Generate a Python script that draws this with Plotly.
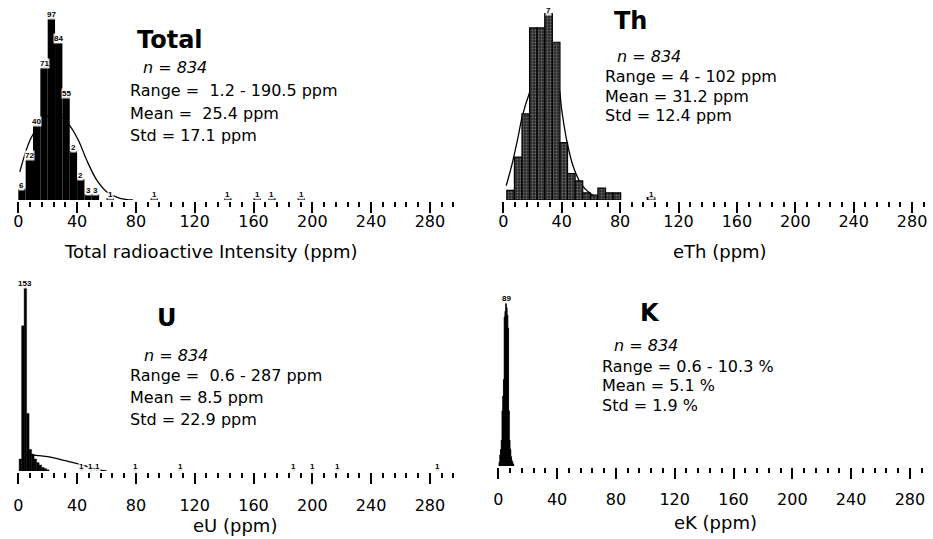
import plotly.graph_objects as go

W, H = 933, 539

# ---------------- data ----------------
# Total radioactive intensity histogram (bin width 5 ppm)
total_x = [2.5, 7.5, 12.5, 17.5, 22.5, 27.5, 32.5, 37.5, 42.5, 47.5, 52.5,
           62.5, 92.5, 142.5, 162.5, 172.5, 192.5]
total_y = [6, 22, 40, 71, 97, 84, 55, 26, 11, 3, 3, 1, 1, 1, 1, 1, 1]
total_lbl = ["6", "72", "40", "71", "97", "84", "55", "2", "2", "3", "3",
             "1", "1", "1", "1", "1", "1"]
total_curve_x = [1, 8, 15, 20, 25, 30, 34.7, 40.8, 46.5, 53.3, 60.1, 69.2, 78]
total_curve_y = [15, 32, 41, 45, 46, 44, 40, 32, 21.3, 10.7, 4.4, 0.9, 0]

# eTh histogram (bin width ~5.2 ppm)
th_x = [5.0, 10.2, 15.4, 20.6, 25.8, 31.0, 36.2, 41.4, 46.6, 51.8, 57.0,
        62.2, 67.4, 72.6, 77.8, 101.2]
th_y = [4, 18, 36, 72, 72, 78, 66, 24, 11, 8, 3, 2, 5, 3, 3, 1]
th_lbl_x = [31.0, 101.2]
th_lbl_y = [78, 1]
th_lbl = ["7", "1"]
th_curve_x = [2, 6, 10, 13, 18, 23, 28, 33, 37.7, 40, 43.4, 47.9, 53.7, 59.4, 65.1, 72]
th_curve_y = [6, 15, 26, 35, 45, 52, 55, 53, 48, 37.7, 25, 14, 6.3, 2.8, 0.7, 0]

# eU histogram (bin width ~1.7 ppm)
u_x = [1.4, 3.1, 4.8, 6.5, 8.2, 9.9, 11.6, 13.3, 15.0, 16.7, 18.4, 20.1,
       43.1, 49.3, 53.7, 79.4, 110.0, 187.5, 200.2, 217.3, 285.3]
u_y = [10, 121, 153, 48, 18, 14, 10, 7, 5, 3, 2, 1,
       1, 1, 1, 1, 1, 1, 1, 1, 1]
u_lbl_x = [4.8, 43.1, 49.3, 53.7, 79.4, 110.0, 187.5, 200.2, 217.3, 285.3]
u_lbl_y = [153, 1, 1, 1, 1, 1, 1, 1, 1, 1]
u_lbl = ["153", "1", "1", "1", "1", "1", "1", "1", "1", "1"]
u_curve_x = [5, 10.2, 20, 28.4, 35, 42, 48, 53.3, 60]
u_curve_y = [13.5, 13.3, 12, 9.7, 7.7, 5.6, 3.3, 1.4, 0]

# eK histogram (bin width 0.5)
k_x = [0.75, 1.25, 1.75, 2.25, 2.75, 3.25, 3.75, 4.25, 4.75, 5.25, 5.75,
       6.25, 6.75, 7.25, 7.75, 8.25, 8.75, 9.25, 9.75, 10.25]
k_y = [2, 6, 9, 14, 30, 38, 47, 81, 84, 89, 86, 82, 75, 30, 14, 9, 5, 3, 2, 1]
k_lbl_x = [5.25]
k_lbl_y = [89]
k_lbl = ["89"]

tick_vals = [0, 40, 80, 120, 160, 200, 240, 280]
tick_text = ["0", "40", "80", "120", "160", "200", "240", "280"]

# ---------------- layout helpers ----------------
def px(x):
    return x / W

def py(y):
    return 1 - y / H

FONT = "DejaVu Sans, Liberation Sans, Arial, sans-serif"

# panel geometry: (x-left px, x-right px, zero px, px/unit, baseline px, top px, px/count, label standoff)
panels = {
    "1": (17, 456, 18.3, 1.47, 200, 5, 1.876, -5),
    "2": (498, 933, 503.3, 1.46, 200, 5, 2.39, -5),
    "3": (17, 460, 18.3, 1.47, 471, 280, 1.2, 8),
    "4": (497, 933, 498.3, 1.47, 466, 280, 1.84, 7),
}

fig = go.Figure()

def add_bars(ax, xs, ys, width, color, pattern=None, line_w=0):
    marker = dict(color=color, line=dict(color="black", width=line_w))
    if pattern:
        marker["pattern"] = pattern
    fig.add_trace(go.Bar(x=xs, y=ys, width=width, marker=marker,
                         xaxis="x" + ("" if ax == "1" else ax),
                         yaxis="y" + ("" if ax == "1" else ax),
                         showlegend=False, hoverinfo="skip", zorder=1))

def add_curve(ax, xs, ys):
    fig.add_trace(go.Scatter(x=xs, y=ys, mode="lines",
                             line=dict(color="black", width=1.3, shape="spline"),
                             xaxis="x" + ("" if ax == "1" else ax),
                             yaxis="y" + ("" if ax == "1" else ax),
                             showlegend=False, hoverinfo="skip", zorder=0))

add_curve("1", total_curve_x, total_curve_y)
add_bars("1", total_x, total_y, 5, "black")
add_curve("2", th_curve_x, th_curve_y)
add_bars("2", th_x, th_y, 5.2, "#2b2b2b",
         pattern=dict(shape=".", fgcolor="#a8a8a8", size=3, solidity=0.3), line_w=1.2)
add_curve("3", u_curve_x, u_curve_y)
add_bars("3", u_x, u_y, 1.7, "black", line_w=0.4)
add_bars("4", k_x, k_y, 0.5, "black", line_w=0.8)

annotations = []

def add_labels(ax, xs, ys, texts):
    xr = "x" + ("" if ax == "1" else ax)
    yr = "y" + ("" if ax == "1" else ax)
    for x, y, t in zip(xs, ys, texts):
        annotations.append(dict(x=x, y=y, xref=xr, yref=yr, text="<b>%s</b>" % t,
                                showarrow=False, yanchor="bottom", xanchor="center",
                                yshift=-2, bgcolor="rgba(255,255,255,0.85)", borderpad=0,
                                font=dict(family="Liberation Sans, Arial", size=8, color="black")))

add_labels("1", total_x, total_y, total_lbl)
add_labels("2", th_lbl_x, th_lbl_y, th_lbl)
add_labels("3", u_lbl_x, u_lbl_y, u_lbl)
add_labels("4", k_lbl_x, k_lbl_y, k_lbl)

def txt(x, y, text, size=16, anchor="left"):
    annotations.append(dict(x=px(x), y=py(y), xref="paper", yref="paper", text=text,
                            showarrow=False, xanchor=anchor, yanchor="middle",
                            font=dict(family=FONT, size=size, color="black")))

# stats blocks
blocks = [
    ((135, 40), (141, 68), (128, 90), "Total", "Range =  1.2 - 190.5 ppm", "Mean =  25.4 ppm", "Std = 17.1 ppm", 23),
    ((612, 21), (615, 56), (603, 76), "Th", "Range = 4 - 102 ppm", "Mean = 31.2 ppm", "Std = 12.4 ppm", 20),
    ((155, 318), (142, 355), (128, 376), "U", "Range =  0.6 - 287 ppm", "Mean = 8.5 ppm", "Std = 22.9 ppm", 21.5),
    ((638, 313), (612, 345), (600, 366), "K", "Range = 0.6 - 10.3 %", "Mean = 5.1 %", "Std = 1.9 %", 19.5),
]
for (tpos, npos, rpos, title, rng, mean, std, step) in blocks:
    txt(tpos[0], tpos[1], "<b>%s</b>" % title, size=24)
    txt(npos[0], npos[1], "<i>n = 834</i>", size=16)
    txt(rpos[0], rpos[1], rng, size=16)
    txt(rpos[0], rpos[1] + step, mean, size=16)
    txt(rpos[0], rpos[1] + 2 * step, std, size=16)

# axis titles
txt(211, 252, "Total radioactive Intensity (ppm)", size=18, anchor="center")
txt(720, 252, "eTh (ppm)", size=18, anchor="center")
txt(235, 525, "eU (ppm)", size=18, anchor="center")
txt(715, 522, "eK (ppm)", size=18, anchor="center")

layout = dict(width=W, height=H, margin=dict(l=0, r=0, t=0, b=0, autoexpand=False),
              paper_bgcolor="white", plot_bgcolor="white",
              showlegend=False, annotations=annotations, barmode="overlay")

for ax, (xl, xr, x0, sx, base, top, sy, stand) in panels.items():
    xa = "xaxis" + ("" if ax == "1" else ax)
    ya = "yaxis" + ("" if ax == "1" else ax)
    yname = "y" + ("" if ax == "1" else ax)
    xname = "x" + ("" if ax == "1" else ax)
    layout[xa] = dict(domain=[px(xl), px(xr)],
                      range=[(xl - x0) / sx, (xr - x0) / sx],
                      anchor=yname, showline=True, linecolor="black", linewidth=2,
                      showgrid=False, zeroline=False, automargin=False,
                      tickmode="array", tickvals=tick_vals, ticktext=tick_text,
                      ticks="outside", ticklen=11, tickwidth=2, tickcolor="black",
                      ticklabelstandoff=stand,
                      minor=dict(ticks="outside", ticklen=5, tickwidth=2,
                                 tickcolor="black", dtick=8, tick0=0, showgrid=False),
                      tickfont=dict(family=FONT, size=16, color="black"),
                      fixedrange=True)
    layout[ya] = dict(domain=[py(base), py(top)], range=[0, (base - top) / sy],
                      anchor=xname, visible=False, fixedrange=True, automargin=False)

fig.update_layout(**layout)
fig.write_html("out.html", config={"displayModeBar": False, "staticPlot": True})

# remove the browser's default page margin so the figure sits at the window origin
with open("out.html", "r", encoding="utf-8") as f:
    html = f.read()
html = html.replace("<head>", "<head><style>html,body{margin:0;padding:0;overflow:hidden}</style>", 1)
with open("out.html", "w", encoding="utf-8") as f:
    f.write(html)
